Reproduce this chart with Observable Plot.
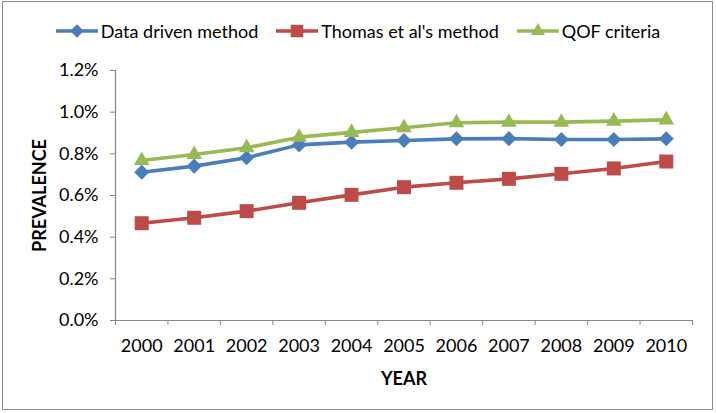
<!DOCTYPE html>
<html>
<head>
<meta charset="utf-8">
<script src="https://cdn.jsdelivr.net/npm/d3@7"></script>
<script src="https://cdn.jsdelivr.net/npm/@observablehq/plot@0.6"></script>
<style>
  html, body { margin: 0; padding: 0; background: #fff; }
  body { width: 716px; height: 413px; position: relative; overflow: hidden; font-family: Lato, "Open Sans", sans-serif; }
  #frame { position: absolute; left: 2px; top: 1px; width: 709px; height: 407px; border: 1px solid #8c8c8c; box-sizing: content-box; }
  #chart { position: absolute; left: 0; top: 0; }
  #legend { position: absolute; left: 0; top: 20px; width: 716px; display: flex; justify-content: center; align-items: center; font-size: 18px; color: #000; }
  #legend .item { display: flex; align-items: center; margin: 0 9px; }
  #legend svg { margin-right: 3px; }
</style>
</head>
<body>
<div id="frame"></div>
<div id="chart"></div>
<div id="legend"></div>
<script>
// ---- data ----
const years = [2000, 2001, 2002, 2003, 2004, 2005, 2006, 2007, 2008, 2009, 2010];
const seriesNames = ["Data driven method", "Thomas et al's method", "QOF criteria"];
const dataDriven = [0.00712, 0.00741, 0.00781, 0.00843, 0.00856, 0.00864, 0.00872, 0.00873, 0.00869, 0.00869, 0.00872];
const thomas     = [0.00467, 0.00493, 0.00525, 0.00565, 0.00603, 0.00640, 0.00661, 0.00680, 0.00704, 0.00730, 0.00763];
const qof        = [0.00768, 0.00797, 0.00829, 0.00880, 0.00903, 0.00925, 0.00949, 0.00952, 0.00952, 0.00957, 0.00963];
const yTicks = [0, 0.002, 0.004, 0.006, 0.008, 0.010, 0.012];
const colors = ["#4A7EBB", "#BE4B48", "#98B954"];

const seriesValues = [dataDriven, thomas, qof];
const rows = seriesNames.flatMap((s, i) => years.map((year, j) => ({series: s, year, value: seriesValues[i][j]})));
const boundaries = years.map(y => y - 0.5).concat([years[years.length - 1] + 0.5]);

// Excel-like diamond (rotated square)
const diamond = {draw(ctx, size) { const s = Math.sqrt(size / 2); ctx.moveTo(0, -s); ctx.lineTo(s, 0); ctx.lineTo(0, s); ctx.lineTo(-s, 0); ctx.closePath(); }};
const symbols = [diamond, d3.symbolSquare, d3.symbolTriangle];
const radii = [6.0, 7.9, 5.8];

const axisColor = "#868686";

const chart = Plot.plot({
  width: 716,
  height: 413,
  marginTop: 70,
  marginBottom: 93,
  marginLeft: 115,
  marginRight: 24,
  style: {fontFamily: "Lato, 'Open Sans', sans-serif", fontSize: "18px", color: "#000", background: "transparent"},
  x: {type: "linear", domain: [boundaries[0], boundaries[boundaries.length - 1]]},
  y: {domain: [0, 0.012]},
  color: {domain: seriesNames, range: colors},
  marks: [
    Plot.axisY({ticks: yTicks, tickFormat: d3.format(".1%"), tickSize: 5, tickPadding: 12, stroke: axisColor, label: null, fontSize: 18}),
    Plot.axisX({ticks: years, tickFormat: d => String(d), tickSize: 0, tickPadding: 19, label: null, fontSize: 18}),
    Plot.axisX({ticks: boundaries, tickFormat: () => "", tickSize: 5, stroke: axisColor, label: null}),
    Plot.ruleY([0], {stroke: axisColor, strokeWidth: 1.2}),
    Plot.ruleX([boundaries[0]], {stroke: axisColor, strokeWidth: 1.2}),
    Plot.line(rows, {x: "year", y: "value", z: "series", stroke: "series", strokeWidth: 3.6}),
    ...seriesNames.map((s, i) => Plot.dot(rows.filter(d => d.series === s), {
      x: "year", y: "value", symbol: symbols[i], r: radii[i], fill: colors[i], stroke: "none"
    })),
    Plot.text(["YEAR"], {frameAnchor: "bottom", dy: 64, fontWeight: "bold", fontSize: 18}),
    Plot.text(["PREVALENCE"], {frameAnchor: "left", dx: -75, rotate: -90, textAnchor: "middle", fontWeight: "bold", fontSize: 18})
  ]
});
document.getElementById("chart").appendChild(chart);

// legend
const legend = document.getElementById("legend");
seriesNames.forEach((s, i) => {
  const item = document.createElement("div");
  item.className = "item";
  const sw = d3.create("svg").attr("width", 42).attr("height", 18);
  sw.append("line").attr("x1", 0).attr("x2", 42).attr("y1", 9).attr("y2", 9).attr("stroke", colors[i]).attr("stroke-width", 3.6);
  const size = Math.PI * radii[i] * radii[i] * 0.8;
  sw.append("path").attr("transform", "translate(21,9)").attr("fill", colors[i]).attr("d", d3.symbol(symbols[i], size)());
  item.appendChild(sw.node());
  const t = document.createElement("span");
  t.textContent = s;
  item.appendChild(t);
  legend.appendChild(item);
});
</script>
</body>
</html>
